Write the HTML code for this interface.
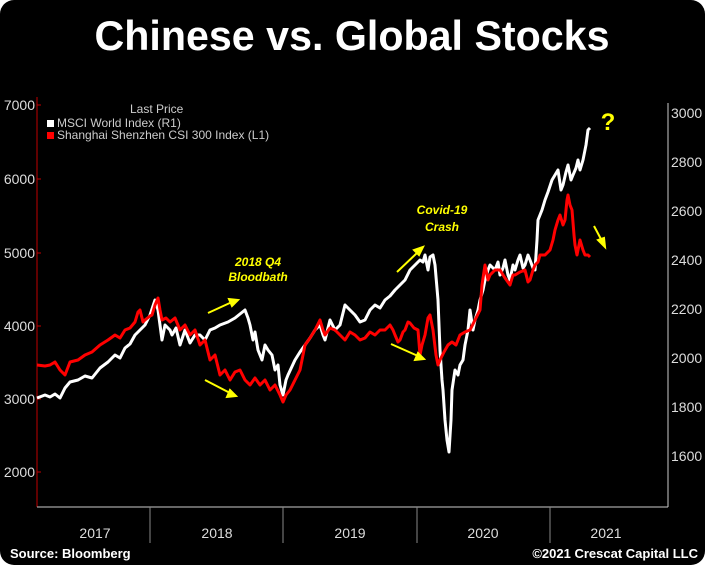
<!DOCTYPE html>
<html><head><style>
html,body{margin:0;padding:0;background:#fff;}
svg{display:block;}
text{font-family:"Liberation Sans",sans-serif;}
</style></head><body>
<svg width="705" height="565" viewBox="0 0 705 565" xmlns="http://www.w3.org/2000/svg">
<rect x="0" y="0" width="705" height="565" rx="14" fill="#000"/>
<text x="352" y="50" fill="#fff" font-size="42" font-weight="bold" text-anchor="middle" textLength="515" lengthAdjust="spacingAndGlyphs">Chinese vs. Global Stocks</text>
<!-- axes -->
<line x1="37" y1="97" x2="37" y2="507" stroke="#c00000" stroke-width="1"/>
<line x1="668" y1="103" x2="668" y2="507" stroke="#ccc" stroke-width="1"/>
<line x1="37" y1="507" x2="668" y2="507" stroke="#ccc" stroke-width="1"/>
<g stroke="#888" stroke-width="1">
<line x1="150" y1="507" x2="150" y2="543"/><line x1="283" y1="507" x2="283" y2="543"/><line x1="417" y1="507" x2="417" y2="543"/><line x1="550" y1="507" x2="550" y2="543"/>
</g>
<g fill="#ddd" font-size="14">
<text x="35" y="110" text-anchor="end">7000</text>
<text x="35" y="184" text-anchor="end">6000</text>
<text x="35" y="258" text-anchor="end">5000</text>
<text x="35" y="331" text-anchor="end">4000</text>
<text x="35" y="404" text-anchor="end">3000</text>
<text x="35" y="477" text-anchor="end">2000</text>
<text x="671" y="118">3000</text>
<text x="671" y="167">2800</text>
<text x="671" y="216">2600</text>
<text x="671" y="265">2400</text>
<text x="671" y="314">2200</text>
<text x="671" y="363">2000</text>
<text x="671" y="412">1800</text>
<text x="671" y="461">1600</text>
<text x="95" y="538" text-anchor="middle">2017</text>
<text x="217" y="538" text-anchor="middle">2018</text>
<text x="350" y="538" text-anchor="middle">2019</text>
<text x="483" y="538" text-anchor="middle">2020</text>
<text x="606" y="538" text-anchor="middle">2021</text>
</g>
<g stroke="#c00000"><line x1="37" y1="105" x2="41" y2="105"/><line x1="37" y1="179" x2="41" y2="179"/><line x1="37" y1="253" x2="41" y2="253"/><line x1="37" y1="326" x2="41" y2="326"/><line x1="37" y1="399" x2="41" y2="399"/><line x1="37" y1="472" x2="41" y2="472"/></g>
<!-- legend -->
<text x="130" y="113" fill="#ccc" font-size="12">Last Price</text>
<rect x="47" y="120" width="7" height="7" fill="#fff"/>
<text x="57" y="127" fill="#ccc" font-size="12">MSCI World Index  (R1)</text>
<rect x="47" y="132" width="7" height="7" fill="#f00"/>
<text x="57" y="139" fill="#ccc" font-size="12">Shanghai Shenzhen CSI 300 Index  (L1)</text>
<!-- series -->
<polyline fill="none" stroke="#fff" stroke-width="3" stroke-linejoin="round" points="37,398 45,395 50,397 55,394 60,398 65,388 70,382 78,380 85,376 92,378 100,368 108,362 115,355 120,358 125,348 130,344 135,335 140,330 145,325 150,315 155,300 158,310 162,340 165,325 170,330 172,335 176,328 180,345 185,330 190,343 195,335 200,335 205,340 210,330 215,328 220,325 228,322 235,318 240,314 245,310 248,318 250,325 253,340 255,332 258,350 262,360 265,345 268,350 272,355 275,370 278,365 280,385 283,395 286,380 288,375 295,360 300,352 305,345 310,338 315,330 320,325 323,335 325,340 330,320 335,330 340,325 345,305 350,310 355,315 360,322 365,320 370,310 375,305 380,308 385,300 390,296 395,290 400,285 405,280 410,270 415,265 420,260 423,262 425,255 428,270 430,257 433,255 435,265 438,300 440,350 442,380 443,390 445,420 447,440 449,452 451,420 452,390 455,370 458,375 460,365 463,360 465,345 468,330 470,310 473,330 475,320 478,310 480,300 483,290 485,280 488,270 490,265 495,270 498,262 500,275 503,268 505,260 508,275 510,280 513,265 515,270 518,260 520,255 523,268 525,265 528,255 530,260 533,268 535,270 537,240 538,220 542,210 545,200 548,192 552,180 555,175 558,170 561,190 563,185 566,172 568,165 571,180 573,175 576,168 578,160 580,170 583,160 586,145 588,130 590,128"/>
<polyline fill="none" stroke="#f00" stroke-width="3" stroke-linejoin="round" points="37,365 45,366 50,365 55,362 60,370 65,375 70,362 78,360 85,355 92,352 100,345 108,340 115,335 120,338 125,330 130,328 135,322 138,312 140,310 143,322 145,320 150,316 152,315 155,305 158,298 160,310 162,320 166,318 170,322 175,318 180,330 185,325 190,335 195,330 200,345 205,340 210,360 215,355 220,375 225,370 230,380 235,372 240,370 245,380 250,385 255,378 260,385 265,380 270,390 275,385 280,395 283,402 286,395 290,390 295,380 300,370 303,355 305,345 310,338 315,330 320,320 323,330 325,335 330,328 335,330 340,335 345,340 350,332 355,335 360,340 365,338 370,332 375,335 380,330 385,330 390,325 393,330 395,335 398,342 400,340 403,332 405,330 408,322 410,323 414,328 418,330 420,355 422,345 425,335 428,318 430,315 433,330 436,355 438,365 440,360 444,352 448,345 452,342 456,345 460,335 465,332 470,330 475,320 480,310 482,285 485,265 488,280 490,275 495,270 500,270 505,278 510,285 513,275 515,275 520,272 525,270 528,282 530,280 533,270 535,265 538,262 540,255 545,255 550,250 553,240 555,230 558,220 560,215 563,225 565,220 567,200 568,195 570,205 572,210 574,235 575,245 577,255 580,240 583,250 585,255 588,255 590,257"/>
<!-- annotations -->
<g fill="#ffff00" font-size="12" font-weight="bold" font-style="italic" text-anchor="middle">
<text x="258" y="266">2018 Q4</text>
<text x="258" y="281">Bloodbath</text>
<text x="442" y="214">Covid-19</text>
<text x="442" y="231">Crash</text>
</g>
<text x="608" y="130" fill="#ffff00" font-size="24" font-weight="bold" text-anchor="middle">?</text>
<g stroke="#ffff00" stroke-width="2" fill="#ffff00">
<line x1="208" y1="313" x2="232" y2="302"/><polygon points="238,300 229,299 232,306"/>
<line x1="205" y1="380" x2="230" y2="393"/><polygon points="236,396 227,397 230,390"/>
<line x1="397" y1="272" x2="418" y2="252"/><polygon points="423,247 414,250 419,255"/>
<line x1="391" y1="344" x2="418" y2="356"/><polygon points="424,359 415,360 418,353"/>
<line x1="594" y1="226" x2="602" y2="241"/><polygon points="605,247 598,240 604,238"/>
</g>
<!-- footer -->
<text x="10" y="558" fill="#fff" font-size="13" font-weight="bold">Source: Bloomberg</text>
<text x="698" y="558" fill="#fff" font-size="13" font-weight="bold" text-anchor="end">©2021 Crescat Capital LLC</text>
</svg>
</body></html>
